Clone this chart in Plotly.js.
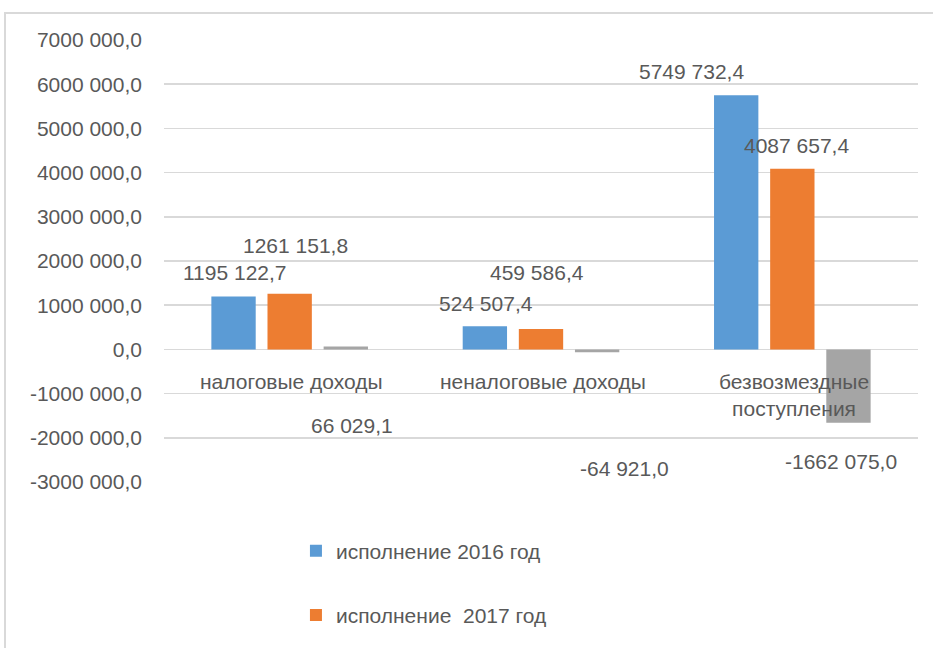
<!DOCTYPE html>
<html>
<head>
<meta charset="utf-8">
<script src="https://cdn.plot.ly/plotly-3.0.1.min.js"></script>
<style>
  html, body { margin: 0; padding: 0; background: #ffffff; overflow: hidden; }
  #chart { position: absolute; left: 0; top: 0; width: 933px; height: 648px; }
  #frame { position: absolute; left: 4px; top: 12px; width: 1000px; height: 1000px;
           border: 2px solid #d9d9d9; pointer-events: none; }
</style>
</head>
<body>
<div id="chart"></div>
<div id="frame"></div>
<script>
// ---- data ----
const categories = ["налоговые доходы", "неналоговые доходы", "безвозмездные<br>поступления"];
const seriesNames = ["исполнение 2016 год", "исполнение  2017 год", "отклонение"];
const values2016 = [1195122.7, 524507.4, 5749732.4];
const values2017 = [1261151.8, 459586.4, 4087657.4];
const valuesDiff = [66029.1, -64921.0, -1662075.0];
const tickValues = [-3000000, -2000000, -1000000, 0, 1000000, 2000000, 3000000, 4000000, 5000000, 6000000, 7000000];

// ---- styles / label placement (pixels) ----
const colors = ["#5b9bd5", "#ed7d31", "#a5a5a5"];
const barOffsetPx = [-56, 0, 56];
const labelDx = [[1, 1, -45], [6, -4, 4], [6, 27, -7]];
const labelDy = [[-24, -23, -24], [-48, -57, -23], [79, 116, 39]];
const textColor = "#595959";
const fontFam = "Liberation Sans, Arial, sans-serif";
const fs = 21;

function fmt(v) {
  const neg = v < 0;
  const s = Math.abs(v).toFixed(1);
  let [ip, dp] = s.split(".");
  if (ip.length > 3) ip = ip.slice(0, -3) + " " + ip.slice(-3);
  return (neg ? "-" : "") + ip + "," + dp;
}

const allValues = [values2016, values2017, valuesDiff];
const traces = allValues.map((vals, i) => ({
  type: "bar",
  name: seriesNames[i],
  x: categories,
  y: vals,
  marker: { color: colors[i] },
  showlegend: i < 2,
  legendgroup: "g" + i,
  hoverinfo: "none"
}));

const annotations = [];
allValues.forEach((vals, i) => {
  vals.forEach((v, j) => {
    annotations.push({
      x: categories[j], y: v, xref: "x", yref: "y",
      text: fmt(v), showarrow: false,
      xanchor: "center", yanchor: "middle",
      xshift: barOffsetPx[i] + labelDx[i][j],
      yshift: -labelDy[i][j],
      font: { family: fontFam, size: fs, color: textColor }
    });
  });
});
categories.forEach((c, j) => {
  annotations.push({
    x: c, y: 0, xref: "x", yref: "y",
    text: c, showarrow: false,
    xanchor: "center", yanchor: "top",
    xshift: 2, yshift: -19,
    font: { family: fontFam, size: fs, color: textColor }
  });
});

const layout = {
  width: 933, height: 648,
  paper_bgcolor: "rgba(0,0,0,0)",
  plot_bgcolor: "rgba(0,0,0,0)",
  margin: { l: 164, r: 15, t: 40, b: 166 },
  barmode: "group",
  bargap: 0.33,
  bargroupgap: 0.21,
  font: { family: fontFam, size: fs, color: textColor },
  xaxis: { showticklabels: false, showgrid: false, zeroline: false, showline: false, ticks: "" },
  yaxis: {
    range: [-3000000, 7000000],
    tickvals: tickValues,
    ticktext: tickValues.map(fmt),
    showgrid: true, gridcolor: "#d9d9d9", gridwidth: 1.5,
    zeroline: false, showline: false, ticks: "",
    ticklabelstandoff: 21,
    tickfont: { family: fontFam, size: fs, color: textColor }
  },
  legend: {
    orientation: "v",
    x: 0.175, xanchor: "left",
    y: -0.11, yanchor: "top",
    tracegroupgap: 34,
    itemwidth: 30,
    font: { family: fontFam, size: fs, color: textColor },
    bgcolor: "rgba(0,0,0,0)"
  },
  annotations: annotations,
  showlegend: true
};

Plotly.newPlot("chart", traces, layout, { displayModeBar: false, staticPlot: true });
</script>
</body>
</html>
